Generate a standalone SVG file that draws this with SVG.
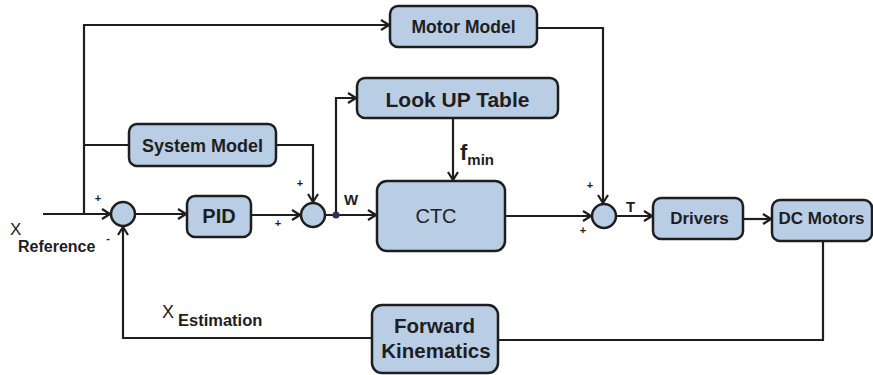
<svg xmlns="http://www.w3.org/2000/svg" width="873" height="375" viewBox="0 0 873 375">
<defs>
<style>
.box{fill:#b9cde5;stroke:#1e1e1e;stroke-width:2.5}
.sum{fill:#b9cde5;stroke:#1e1e1e;stroke-width:2.5}
.ln{fill:none;stroke:#1e1e1e;stroke-width:2.2}
.t{font-family:"Liberation Sans",Arial,sans-serif;fill:#1e1e1e;text-anchor:middle}
.b{font-weight:bold}
.lbl{font-family:"Liberation Sans",Arial,sans-serif;fill:#1e1e1e}
.pm{font-family:"Liberation Sans",Arial,sans-serif;fill:#1e1e1e;font-size:11px;font-weight:bold;text-anchor:middle}
</style>
<marker id="ah" markerWidth="10" markerHeight="12" refX="9" refY="6" orient="auto" markerUnits="userSpaceOnUse">
<path d="M1,1 L9,6 L1,11" fill="none" stroke="#1e1e1e" stroke-width="2.2"/>
</marker>
</defs>
<rect width="873" height="375" fill="#ffffff"/>

<g id="connectors">
<path class="ln" d="M84,214 V25 H389" marker-end="url(#ah)"/>
<path class="ln" d="M84,145 H129"/>
<path class="ln" d="M276,145 H313 V202" marker-end="url(#ah)"/>
<path class="ln" d="M43,214 H110" marker-end="url(#ah)"/>
<path class="ln" d="M135,214 H186" marker-end="url(#ah)"/>
<path class="ln" d="M251,215 H300" marker-end="url(#ah)"/>
<path class="ln" d="M325,215 H376" marker-end="url(#ah)"/>
<path class="ln" d="M336,215 V98 H356" marker-end="url(#ah)"/>
<path class="ln" d="M453,118 V180" marker-end="url(#ah)"/>
<path class="ln" d="M505,216 H591" marker-end="url(#ah)"/>
<path class="ln" d="M537,28 H603 V203" marker-end="url(#ah)"/>
<path class="ln" d="M616,216 H652" marker-end="url(#ah)"/>
<path class="ln" d="M743,219 H771" marker-end="url(#ah)"/>
<path class="ln" d="M823,241 V340 H498"/>
<path class="ln" d="M372,338 H123 V227" marker-end="url(#ah)"/>
<circle cx="336" cy="215" r="3.5" fill="#2a3358"/>
</g>

<g id="motor-model">
<rect class="box" x="390" y="6" width="147" height="41" rx="8"/>
<text class="t b" x="463.5" y="33" font-size="17.5">Motor Model</text>
</g>
<g id="look-up-table">
<rect class="box" x="357" y="78" width="201" height="40" rx="8"/>
<text class="t b" x="457.5" y="107" font-size="21">Look UP Table</text>
</g>
<g id="system-model">
<rect class="box" x="129" y="124" width="147" height="42" rx="8"/>
<text class="t b" x="202.5" y="152" font-size="18">System Model</text>
</g>
<g id="sum1">
<circle class="sum" cx="123" cy="214" r="12"/>
</g>
<g id="pid">
<rect class="box" x="187" y="196" width="64" height="41" rx="8"/>
<text class="t b" x="219" y="223" font-size="20">PID</text>
</g>
<g id="sum2">
<circle class="sum" cx="313" cy="215" r="12"/>
</g>
<g id="ctc">
<rect class="box" x="377" y="181" width="128" height="70" rx="10"/>
<text class="t" x="436" y="223" font-size="20">CTC</text>
</g>
<g id="sum3">
<circle class="sum" cx="604" cy="216" r="12"/>
</g>
<g id="drivers">
<rect class="box" x="653" y="198" width="90" height="41" rx="8"/>
<text class="t b" x="699.5" y="224" font-size="17">Drivers</text>
</g>
<g id="dc-motors">
<rect class="box" x="772" y="200" width="100" height="41" rx="8"/>
<text class="t b" x="821.5" y="224" font-size="17">DC Motors</text>
</g>
<g id="forward-kinematics">
<rect class="box" x="372" y="305" width="126" height="68" rx="10"/>
<text class="t b" x="434.5" y="333" font-size="20.5">Forward</text>
<text class="t b" x="436" y="358" font-size="20.5">Kinematics</text>
</g>

<g id="labels">
<text class="lbl" x="10" y="235" font-size="17">X</text>
<text class="lbl b" x="18" y="252" font-size="16" font-weight="bold">Reference</text>
<text class="pm" x="108" y="242">-</text>
<text class="pm" x="98" y="202">+</text>
<text class="pm" x="300" y="187">+</text>
<text class="pm" x="278" y="227">+</text>
<text class="pm" x="590" y="189">+</text>
<text class="pm" x="583" y="234">+</text>
<text class="lbl" x="344" y="205" font-size="15" font-weight="bold">W</text>
<text class="lbl" x="626" y="212" font-size="15" font-weight="bold">T</text>
<text class="lbl" x="460" y="160" font-size="22" font-weight="bold">f<tspan font-size="15" dy="5">min</tspan></text>
<text class="lbl" x="162" y="318" font-size="18">X</text>
<text class="lbl" x="178" y="326" font-size="16.5" font-weight="bold">Estimation</text>
</g>
</svg>
